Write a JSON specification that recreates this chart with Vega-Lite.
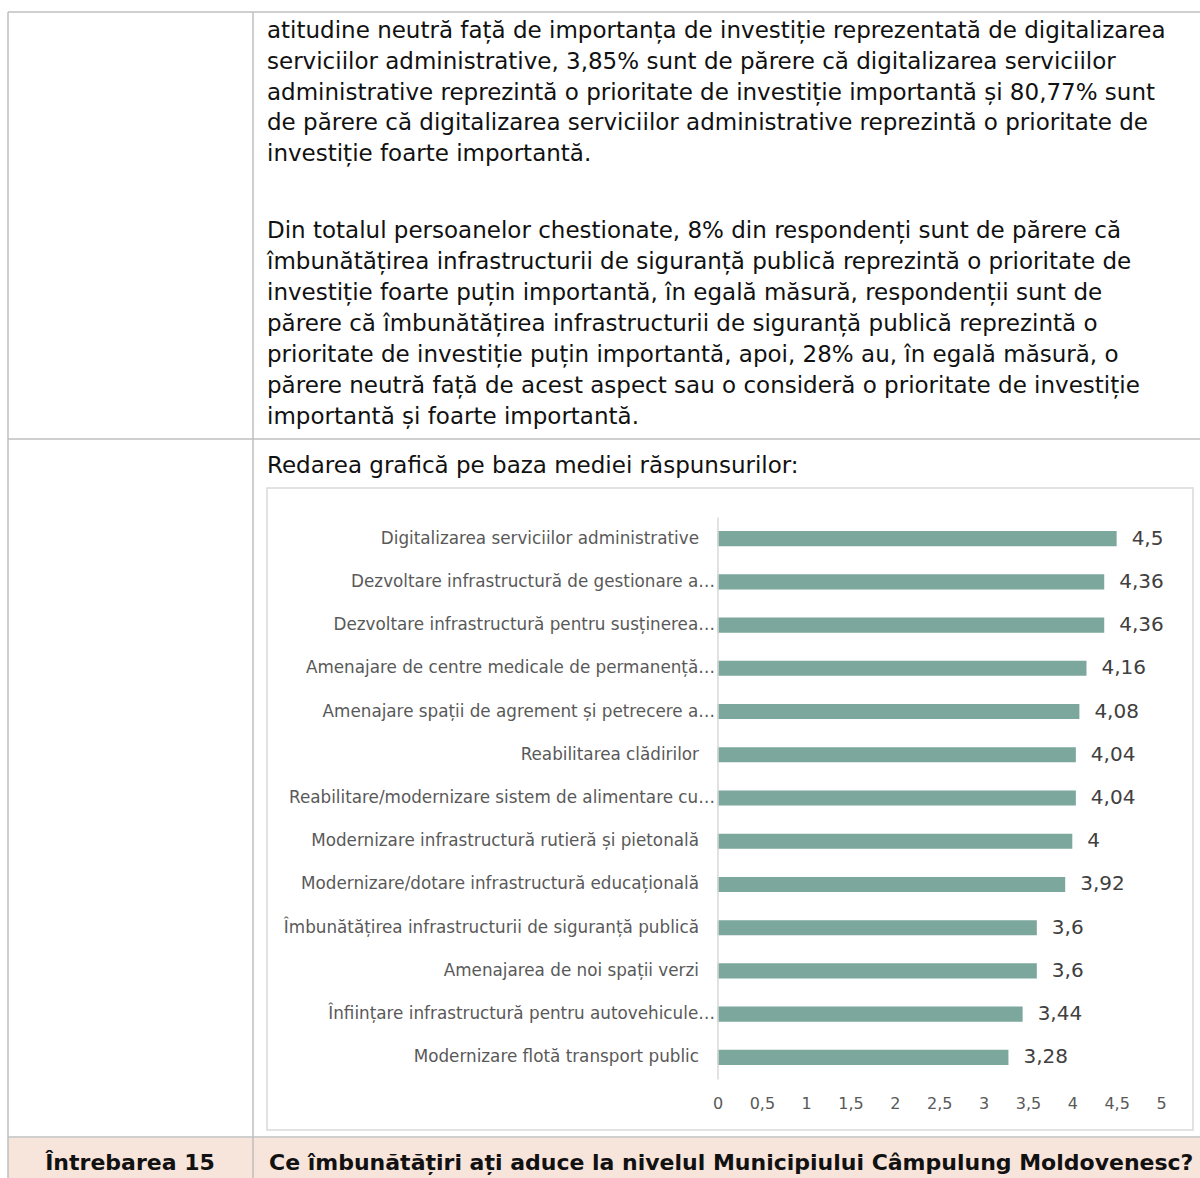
{
  "$schema": "https://vega.github.io/schema/vega-lite/v6.json",
  "width": 1200,
  "height": 1178,
  "autosize": {"type": "none"},
  "padding": 0,
  "background": "white",
  "config": {
    "view": {"stroke": null},
    "font": "DejaVu Sans",
    "locale": {"number": {"decimal": ",", "thousands": ".", "grouping": [3], "currency": ["", ""]}}
  },
  "resolve": {"scale": {"x": "independent", "y": "independent"}},
  "layer": [
    {
      "data": {"values": [{"part": "footer"}]},
      "mark": {"type": "rect", "fill": "#F7E4DA"},
      "encoding": {"x": {"value": 8}, "x2": {"value": 1200}, "y": {"value": 1138}, "y2": {"value": 1178}}
    },
    {
      "data": {"values": [{"part": "top"}]},
      "mark": {"type": "rule", "color": "#bfbfbf", "strokeWidth": 1.5},
      "encoding": {"x": {"value": 8}, "x2": {"value": 1200}, "y": {"value": 12}}
    },
    {
      "data": {"values": [{"part": "row"}]},
      "mark": {"type": "rule", "color": "#bfbfbf", "strokeWidth": 1.5},
      "encoding": {"x": {"value": 8}, "x2": {"value": 1200}, "y": {"value": 439}}
    },
    {
      "data": {"values": [{"part": "row"}]},
      "mark": {"type": "rule", "color": "#bfbfbf", "strokeWidth": 1.5},
      "encoding": {"x": {"value": 8}, "x2": {"value": 1200}, "y": {"value": 1137}}
    },
    {
      "data": {"values": [{"part": "left"}]},
      "mark": {"type": "rule", "color": "#bfbfbf", "strokeWidth": 1.5},
      "encoding": {"x": {"value": 8}, "y": {"value": 12}, "y2": {"value": 1178}}
    },
    {
      "data": {"values": [{"part": "divider"}]},
      "mark": {"type": "rule", "color": "#bfbfbf", "strokeWidth": 1.5},
      "encoding": {"x": {"value": 253}, "y": {"value": 12}, "y2": {"value": 1178}}
    },
    {
      "data": {"values": [{"part": "chartbox"}]},
      "mark": {"type": "rect", "fill": "white", "stroke": "#d9d9d9", "strokeWidth": 1.5},
      "encoding": {"x": {"value": 267}, "x2": {"value": 1193}, "y": {"value": 488}, "y2": {"value": 1130}}
    },
    {
      "data": {"values": [
        {"item": "Digitalizarea serviciilor administrative", "value": 4.5},
        {"item": "Dezvoltare infrastructură de gestionare a…", "value": 4.36},
        {"item": "Dezvoltare infrastructură pentru susținerea…", "value": 4.36},
        {"item": "Amenajare de centre medicale de permanență…", "value": 4.16},
        {"item": "Amenajare spații de agrement și petrecere a…", "value": 4.08},
        {"item": "Reabilitarea clădirilor", "value": 4.04},
        {"item": "Reabilitare/modernizare sistem de alimentare cu…", "value": 4.04},
        {"item": "Modernizare infrastructură rutieră și pietonală", "value": 4},
        {"item": "Modernizare/dotare infrastructură educațională", "value": 3.92},
        {"item": "Îmbunătățirea infrastructurii de siguranță publică", "value": 3.6},
        {"item": "Amenajarea de noi spații verzi", "value": 3.6},
        {"item": "Înființare infrastructură pentru autovehicule…", "value": 3.44},
        {"item": "Modernizare flotă transport public", "value": 3.28}
      ]},
      "encoding": {
        "y": {
          "field": "item", "type": "nominal", "sort": null,
          "scale": {"range": [517, 1079], "paddingInner": 0.65, "paddingOuter": 0.325},
          "axis": {
            "orient": "left", "offset": -717.5, "title": null, "ticks": false, "zindex": 1,
            "domainColor": "#d9d9d9", "domainWidth": 1.5,
            "labelFontSize": 16.8, "labelColor": "#595959", "labelPadding": 3, "labelLimit": 600,
            "labelExpr": "slice(datum.label, -1) == '…' ? datum.label : datum.label + '\u00a0\u00a0\u00a0\u200b'"
          }
        },
        "x": {
          "field": "value", "type": "quantitative",
          "scale": {"domain": [0, 5], "range": [717.5, 1161], "nice": false},
          "axis": {
            "orient": "bottom", "offset": -88, "title": null, "values": [0, 0.5, 1, 1.5, 2, 2.5, 3, 3.5, 4, 4.5, 5],
            "format": "~g", "domain": false, "ticks": false, "grid": false, "zindex": 1, "labelFlush": false,
            "labelFontSize": 16, "labelColor": "#595959", "labelPadding": 5
          }
        }
      },
      "layer": [
        {"mark": {"type": "bar", "color": "#7BA79C"}},
        {
          "mark": {"type": "text", "align": "left", "baseline": "middle", "dx": 15, "fontSize": 20, "color": "#404040"},
          "encoding": {"text": {"field": "value", "type": "quantitative", "format": "~g"}}
        }
      ]
    },
    {
      "data": {"values": [
        {"line": 1, "text": "atitudine neutră față de importanța de investiție reprezentată de digitalizarea"},
        {"line": 2, "text": "serviciilor administrative, 3,85% sunt de părere că digitalizarea serviciilor"},
        {"line": 3, "text": "administrative reprezintă o prioritate de investiție importantă și 80,77% sunt"},
        {"line": 4, "text": "de părere că digitalizarea serviciilor administrative reprezintă o prioritate de"},
        {"line": 5, "text": "investiție foarte importantă."}
      ]},
      "mark": {"type": "text", "align": "left", "baseline": "middle", "fontSize": 23, "color": "#111111"},
      "encoding": {
        "x": {"value": 267},
        "y": {"field": "line", "type": "quantitative", "scale": {"domain": [1, 5], "range": [31, 154], "nice": false, "zero": false}, "axis": null},
        "text": {"field": "text"}
      }
    },
    {
      "data": {"values": [
        {"line": 1, "text": "Din totalul persoanelor chestionate, 8% din respondenți sunt de părere că"},
        {"line": 2, "text": "îmbunătățirea infrastructurii de siguranță publică reprezintă o prioritate de"},
        {"line": 3, "text": "investiție foarte puțin importantă, în egală măsură, respondenții sunt de"},
        {"line": 4, "text": "părere că îmbunătățirea infrastructurii de siguranță publică reprezintă o"},
        {"line": 5, "text": "prioritate de investiție puțin importantă, apoi,  28% au, în egală măsură, o"},
        {"line": 6, "text": "părere neutră față de acest aspect sau o consideră o prioritate de investiție"},
        {"line": 7, "text": "importantă și foarte importantă."}
      ]},
      "mark": {"type": "text", "align": "left", "baseline": "middle", "fontSize": 23, "color": "#111111"},
      "encoding": {
        "x": {"value": 267},
        "y": {"field": "line", "type": "quantitative", "scale": {"domain": [1, 7], "range": [231, 417], "nice": false, "zero": false}, "axis": null},
        "text": {"field": "text"}
      }
    },
    {
      "data": {"values": [{"text": "Redarea grafică pe baza mediei răspunsurilor:"}]},
      "mark": {"type": "text", "align": "left", "baseline": "middle", "fontSize": 23, "color": "#111111"},
      "encoding": {"x": {"value": 267}, "y": {"value": 466}, "text": {"field": "text"}}
    },
    {
      "data": {"values": [{"text": "Întrebarea 15"}]},
      "mark": {"type": "text", "align": "center", "baseline": "middle", "fontSize": 22, "fontWeight": "bold", "color": "#111111"},
      "encoding": {"x": {"value": 130}, "y": {"value": 1163}, "text": {"field": "text"}}
    },
    {
      "data": {"values": [{"text": "Ce îmbunătățiri ați aduce la nivelul Municipiului Câmpulung Moldovenesc?"}]},
      "mark": {"type": "text", "align": "left", "baseline": "middle", "fontSize": 22, "fontWeight": "bold", "color": "#111111"},
      "encoding": {"x": {"value": 269}, "y": {"value": 1163}, "text": {"field": "text"}}
    }
  ]
}
